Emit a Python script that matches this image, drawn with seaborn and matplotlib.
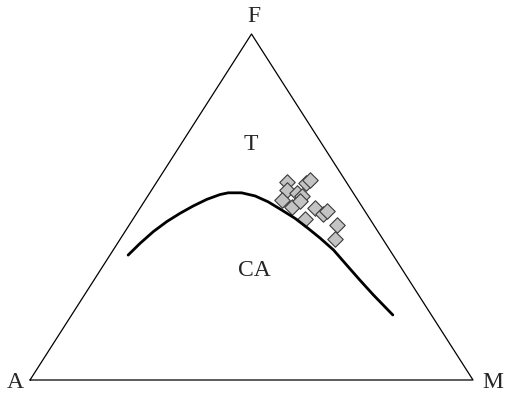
import numpy as np
import pandas as pd
import matplotlib
matplotlib.use("Agg")
import matplotlib.pyplot as plt
import seaborn as sns

# AFM ternary: F = FeO*, M = MgO, A = Na2O+K2O (percent); A = 100 - F - M
curve_f = [36.1, 39.5, 42.9, 45.8, 48.2, 50.3, 52.2, 53.6, 54.1, 54.1, 53.2,
           51.5, 49.1, 46.7, 43.8, 41.0, 37.6, 33.2, 28.9, 24.6, 18.8]
curve_m = [4.1, 5.1, 6.4, 8.0, 9.8, 11.7, 13.8, 16.1, 17.7, 20.7, 24.2,
           28.0, 32.3, 36.5, 40.9, 45.0, 49.7, 54.9, 60.0, 65.2, 72.5]

sample_f = [57.3, 57.0, 57.8, 54.9, 52.0, 50.1, 54.1, 53.2, 51.7, 49.6, 48.0, 48.8, 46.5, 44.8, 40.7]
sample_m = [29.3, 33.8, 34.3, 30.5, 30.8, 34.0, 33.3, 34.8, 35.1, 39.5, 42.2, 42.6, 38.8, 46.8, 48.4]

H = np.sqrt(3) / 2


def to_xy(f, m):
    f = np.asarray(f) / 100.0
    m = np.asarray(m) / 100.0
    return m + f / 2, f * H


sns.set_style("white")
plt.rcParams["font.family"] = ["Liberation Serif", "DejaVu Serif"]

W, Hpx = 507, 396
fig = plt.figure(figsize=(W / 100, Hpx / 100), dpi=100)
ax = fig.add_axes([30 / W, (Hpx - 380) / Hpx, 443 / W, 346 / Hpx])
ax.set_xlim(0, 1)
ax.set_ylim(0, H)
ax.axis("off")

# triangle frame
ax.plot([0, 1, 0.5, 0], [0, 0, H, 0], color="black", lw=0.9, clip_on=False, zorder=1)

cx, cy = to_xy(curve_f, curve_m)
curve = pd.DataFrame({"x": cx, "y": cy})
sx, sy = to_xy(sample_f, sample_m)
samples = pd.DataFrame({"x": sx, "y": sy})

sns.scatterplot(data=samples, x="x", y="y", marker="D", s=62, color="#c3c3c3",
                edgecolor="#3a3a3a", linewidth=0.8, ax=ax, zorder=3, clip_on=False)
sns.lineplot(data=curve, x="x", y="y", sort=False, color="black", lw=2.0, ax=ax,
             zorder=4)

ax.set_xlabel("")
ax.set_ylabel("")

fs = 17
fig.text(254 / W, 1 - 16 / Hpx, "F", ha="center", va="center", fontsize=fs)
fig.text(15 / W, 1 - 382 / Hpx, "A", ha="center", va="center", fontsize=fs)
fig.text(493 / W, 1 - 382 / Hpx, "M", ha="center", va="center", fontsize=fs)
fig.text(251 / W, 1 - 145 / Hpx, "T", ha="center", va="center", fontsize=fs)
fig.text(254 / W, 1 - 270 / Hpx, "CA", ha="center", va="center", fontsize=fs)

fig.savefig("out.png", dpi=100)
